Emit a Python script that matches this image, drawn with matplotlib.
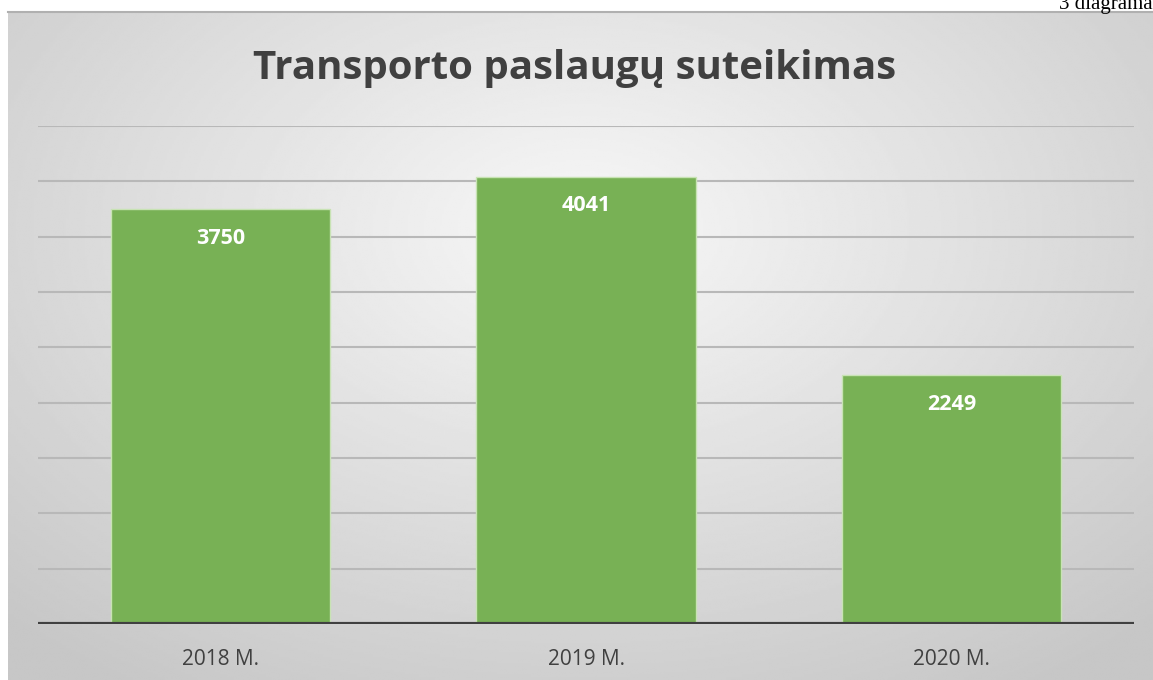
import matplotlib
matplotlib.use("Agg")
import matplotlib.pyplot as plt
import numpy as np

categories = ["2018 M.", "2019 M.", "2020 M."]
values = [3750, 4041, 2249]
title = "Transporto paslaugų suteikimas"
corner_note = "3 diagrama"

W, H = 1153, 680
fig = plt.figure(figsize=(W / 100, H / 100), dpi=100)

# chart panel with radial grey gradient
bg = fig.add_axes([8 / W, 0, 1 - 8 / W, (H - 12) / H])
yy, xx = np.mgrid[-1:1:300j, -1:1:500j]
r = np.sqrt((xx * 0.9) ** 2 + ((yy + 0.35) * 0.8) ** 2)
shade = 0.97 - 0.19 * np.clip(r, 0, 1.3) / 1.3
bg.imshow(shade, cmap="gray", vmin=0, vmax=1, aspect="auto", extent=[0, 1, 0, 1], interpolation="bilinear")
bg.set_axis_off()
bg.plot([0, 1], [1, 1], color="#b0b0b0", lw=1.5, transform=bg.transAxes, clip_on=False)

ax = fig.add_axes([38 / W, (H - 624) / H, (1134 - 38) / W, (624 - 126) / H])
ax.patch.set_alpha(0)
x = np.arange(len(categories))
ax.bar(x, values, width=0.6, color="#78b155", edgecolor="#c8e3b4", linewidth=1.0, zorder=3)
ax.set_xlim(-0.5, 2.5)
ax.set_ylim(0, 4500)
for g in range(500, 4501, 500):
    ax.axhline(g, color="#b8b8b8", lw=1.5, zorder=1)
ax.axhline(0, color="#404040", lw=3, zorder=4)
for s in ax.spines.values():
    s.set_visible(False)
ax.set_yticks([])
ax.set_xticks(x)
ax.set_xticklabels(categories, fontsize=15, color="#404040", family="Open Sans")
ax.tick_params(axis="x", length=0, pad=18)
for xi, v in zip(x, values):
    ax.annotate(str(v), (xi, v), xytext=(0, -21), textcoords="offset points",
                ha="center", va="center", color="white", fontsize=15.5,
                fontweight="bold", family="Open Sans", zorder=5)

fig.text(0.5 * (245 + 905) / W, 1 - 68 / H, title, ha="center", va="center",
         fontsize=29, fontweight="bold", color="#404040", family="Open Sans")
fig.text(1.0, 1 - 9 / H, corner_note, ha="right", va="baseline",
         fontsize=15, color="black", family="Liberation Serif")

fig.savefig("out.png", dpi=100)
